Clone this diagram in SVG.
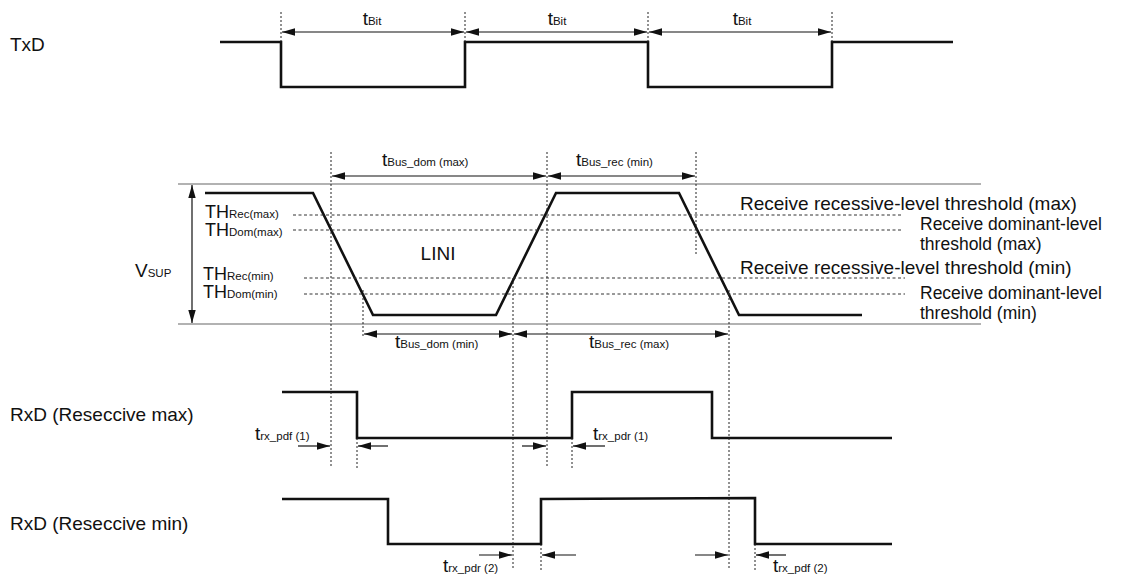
<svg xmlns="http://www.w3.org/2000/svg" width="1128" height="578" viewBox="0 0 1128 578">
  <style>
    text { font-family: "Liberation Sans", Arial, sans-serif; fill: #111; }
    .lbl { font-size: 19px; }
    .lbs { font-size: 18px; }
    .lbw { font-size: 17.5px; }
    .sub { font-size: 11.5px; }
    .wave { fill: none; stroke: #111; stroke-width: 2.6; stroke-linejoin: miter; }
    .rail { fill: none; stroke: #666; stroke-width: 1.2; }
    .vdash { fill: none; stroke: #222; stroke-width: 1; stroke-dasharray: 2 2; }
    .hdash { fill: none; stroke: #333; stroke-width: 1; stroke-dasharray: 3 2.5; }
    .dim { fill: none; stroke: #111; stroke-width: 1.2; }
  </style>
  <defs>
    <marker id="ah" markerUnits="userSpaceOnUse" markerWidth="14" markerHeight="8" refX="13" refY="4" orient="auto-start-reverse">
      <path d="M0,0.3 L13,4 L0,7.7 z" fill="#111"/>
    </marker>
  </defs>

  <rect width="1128" height="578" fill="#fff"/>

  <!-- TxD -->
  <g id="txd">
    <text class="lbl" x="10" y="51">TxD</text>
    <polyline class="wave" points="220,42 281,42 281,87 465,87 465,42 648,42 648,87 832,87 832,42 953,42"/>
  </g>

  <!-- LIN bus -->
  <g id="bus">
    <line class="rail" x1="178" y1="184" x2="981" y2="184"/>
    <line class="rail" x1="178" y1="324" x2="981" y2="324"/>
    <polyline class="wave" points="205,193 313,193 373,315 496,315 556,193 679,193 739,315 862,315"/>
    <text class="lbl" x="438" y="260" text-anchor="middle">LINI</text>
  </g>

  <!-- supply span -->
  <g id="vsup">
    <line class="dim" x1="192" y1="185" x2="192" y2="323" marker-start="url(#ah)" marker-end="url(#ah)"/>
    <text class="lbl" x="135" y="277">V<tspan class="sub">SUP</tspan></text>
  </g>

  <!-- receive thresholds -->
  <g id="thresholds">
    <line class="hdash" x1="293" y1="215" x2="903" y2="215"/>
    <line class="hdash" x1="293" y1="230" x2="903" y2="230"/>
    <line class="hdash" x1="304" y1="278" x2="905" y2="278"/>
    <line class="hdash" x1="304" y1="294" x2="905" y2="294"/>
    <text class="lbs" x="205" y="218">TH<tspan class="sub">Rec(max)</tspan></text>
    <text class="lbs" x="205" y="236">TH<tspan class="sub">Dom(max)</tspan></text>
    <text class="lbs" x="203" y="280">TH<tspan class="sub">Rec(min)</tspan></text>
    <text class="lbs" x="203" y="298">TH<tspan class="sub">Dom(min)</tspan></text>
    <text class="lbl" x="740" y="210">Receive recessive-level threshold (max)</text>
    <text class="lbw" x="920" y="230">Receive dominant-level<tspan x="920" dy="20">threshold (max)</tspan></text>
    <text class="lbl" x="740" y="274">Receive recessive-level threshold (min)</text>
    <text class="lbw" x="920" y="299">Receive dominant-level<tspan x="920" dy="20">threshold (min)</tspan></text>
  </g>

  <!-- RxD, recessive max -->
  <g id="rxd-max">
    <text class="lbl" x="10" y="421">RxD (Reseccive max)</text>
    <polyline class="wave" points="282,392 357,392 357,438 572,438 572,392 712,392 712,438 892,438"/>
  </g>

  <!-- RxD, recessive min -->
  <g id="rxd-min">
    <text class="lbl" x="10" y="530">RxD (Reseccive min)</text>
    <polyline class="wave" points="282,499 388,499 388,544 541,544 541,499 755,498 755,544 892,544"/>
  </g>

  <!-- timing references and dimension arrows -->
  <g id="connectors">
    <!-- bit period -->
    <line class="vdash" x1="281" y1="12" x2="281" y2="42"/>
    <line class="vdash" x1="465" y1="12" x2="465" y2="42"/>
    <line class="vdash" x1="648" y1="12" x2="648" y2="42"/>
    <line class="vdash" x1="832" y1="12" x2="832" y2="42"/>
    <line class="dim" x1="282" y1="32" x2="464" y2="32" marker-start="url(#ah)" marker-end="url(#ah)"/>
    <line class="dim" x1="466" y1="32" x2="647" y2="32" marker-start="url(#ah)" marker-end="url(#ah)"/>
    <line class="dim" x1="649" y1="32" x2="831" y2="32" marker-start="url(#ah)" marker-end="url(#ah)"/>
    <text class="lbl" x="372" y="25" text-anchor="middle">t<tspan class="sub">Bit</tspan></text>
    <text class="lbl" x="557" y="25" text-anchor="middle">t<tspan class="sub">Bit</tspan></text>
    <text class="lbl" x="742" y="25" text-anchor="middle">t<tspan class="sub">Bit</tspan></text>

    <!-- bus edge references -->
    <line class="vdash" x1="331" y1="152" x2="331" y2="468"/>
    <line class="vdash" x1="547" y1="152" x2="547" y2="468"/>
    <line class="vdash" x1="696" y1="152" x2="696" y2="255"/>
    <line class="vdash" x1="363" y1="290" x2="363" y2="338"/>
    <line class="vdash" x1="513" y1="278" x2="513" y2="570"/>
    <line class="vdash" x1="729" y1="290" x2="729" y2="570"/>

    <line class="dim" x1="332" y1="176" x2="546" y2="176" marker-start="url(#ah)" marker-end="url(#ah)"/>
    <line class="dim" x1="548" y1="176" x2="695" y2="176" marker-start="url(#ah)" marker-end="url(#ah)"/>
    <text class="lbl" x="382" y="166">t<tspan class="sub">Bus_dom (max)</tspan></text>
    <text class="lbl" x="576" y="166">t<tspan class="sub">Bus_rec (min)</tspan></text>

    <line class="dim" x1="364" y1="334" x2="512" y2="334" marker-start="url(#ah)" marker-end="url(#ah)"/>
    <line class="dim" x1="514" y1="334" x2="728" y2="334" marker-start="url(#ah)" marker-end="url(#ah)"/>
    <text class="lbl" x="395" y="348">t<tspan class="sub">Bus_dom (min)</tspan></text>
    <text class="lbl" x="589" y="348">t<tspan class="sub">Bus_rec (max)</tspan></text>

    <!-- RxD recessive max delays -->
    <line class="vdash" x1="357" y1="438" x2="357" y2="468"/>
    <line class="vdash" x1="572" y1="438" x2="572" y2="468"/>
    <line class="dim" x1="298" y1="446" x2="330" y2="446" marker-end="url(#ah)"/>
    <line class="dim" x1="388" y1="446" x2="358" y2="446" marker-end="url(#ah)"/>
    <line class="dim" x1="522" y1="446" x2="546" y2="446" marker-end="url(#ah)"/>
    <line class="dim" x1="605" y1="446" x2="573" y2="446" marker-end="url(#ah)"/>
    <text class="lbl" x="255" y="440">t<tspan class="sub">rx_pdf (1)</tspan></text>
    <text class="lbl" x="593" y="440">t<tspan class="sub">rx_pdr (1)</tspan></text>

    <!-- RxD recessive min delays -->
    <line class="vdash" x1="541" y1="544" x2="541" y2="570"/>
    <line class="vdash" x1="755" y1="544" x2="755" y2="570"/>
    <line class="dim" x1="479" y1="555" x2="512" y2="555" marker-end="url(#ah)"/>
    <line class="dim" x1="576" y1="555" x2="542" y2="555" marker-end="url(#ah)"/>
    <line class="dim" x1="695" y1="555" x2="728" y2="555" marker-end="url(#ah)"/>
    <line class="dim" x1="786" y1="555" x2="756" y2="555" marker-end="url(#ah)"/>
    <text class="lbl" x="443" y="572">t<tspan class="sub">rx_pdr (2)</tspan></text>
    <text class="lbl" x="773" y="572">t<tspan class="sub">rx_pdf (2)</tspan></text>
  </g>
</svg>
